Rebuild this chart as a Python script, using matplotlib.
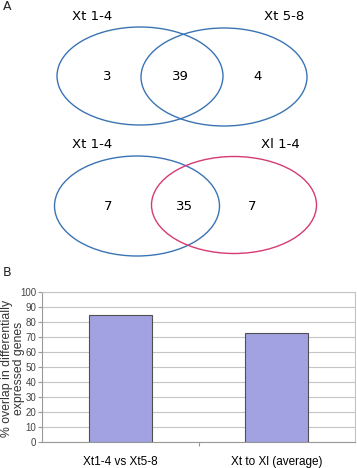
import matplotlib
matplotlib.use("Agg")
import matplotlib.pyplot as plt
from matplotlib.patches import Ellipse

# Data
venn1_labels = ["Xt 1-4", "Xt 5-8"]
venn1_counts = [3, 39, 4]
venn2_labels = ["Xt 1-4", "Xl 1-4"]
venn2_counts = [7, 35, 7]
bar_categories = ["Xt1-4 vs Xt5-8", "Xt to Xl (average)"]
bar_values = [85, 72.5]
yticks = list(range(0, 101, 10))

W, H = 357, 468
fig = plt.figure(figsize=(W / 100, H / 100), dpi=100)
fig.patch.set_facecolor("white")

ax = fig.add_axes([0, 0, 1, 1])
ax.set_xlim(0, W)
ax.set_ylim(H, 0)
ax.axis("off")

blue = "#3a74b4"
pink = "#d63a74"
txt_font = "DejaVu Sans"

ax.text(3, 7, "A", fontsize=9, va="center", ha="left", color="#222222", family=txt_font)
ax.text(3, 272, "B", fontsize=9, va="center", ha="left", color="#222222", family=txt_font)

# Venn 1
ax.add_patch(Ellipse((140, 76), 166, 98, fill=False, ec=blue, lw=1.0))
ax.add_patch(Ellipse((224, 77), 166, 98, fill=False, ec=blue, lw=1.0))
ax.text(92, 17, venn1_labels[0], fontsize=9.5, ha="center", va="center", family=txt_font)
ax.text(284, 17, venn1_labels[1], fontsize=9.5, ha="center", va="center", family=txt_font)
for x, c in zip([107, 180, 258], venn1_counts):
    ax.text(x, 76, str(c), fontsize=9.5, ha="center", va="center", family=txt_font)

# Venn 2
ax.add_patch(Ellipse((137, 206), 165, 100, fill=False, ec=blue, lw=1.0))
ax.add_patch(Ellipse((234, 205), 165, 97, fill=False, ec=pink, lw=1.0))
ax.text(92, 145, venn2_labels[0], fontsize=9.5, ha="center", va="center", family=txt_font)
ax.text(280, 145, venn2_labels[1], fontsize=9.5, ha="center", va="center", family=txt_font)
for x, c in zip([108, 184, 252], venn2_counts):
    ax.text(x, 206, str(c), fontsize=9.5, ha="center", va="center", family=txt_font)

# Bar chart
l, r, t, b = 42, 355, 292, 442
bax = fig.add_axes([l / W, (H - b) / H, (r - l) / W, (b - t) / H])
x = list(range(len(bar_categories)))
bax.bar(x, bar_values, width=0.4, color="#a2a2e2", edgecolor="#505050", linewidth=0.8, zorder=3)
bax.set_xlim(-0.5, len(bar_categories) - 0.5)
bax.set_ylim(0, 100)
bax.set_yticks(yticks)
bax.set_yticklabels([str(v) for v in yticks], fontsize=7, family="Liberation Sans", color="#444444")
bax.yaxis.grid(True, color="#c4c4c4", lw=0.8, zorder=0)
bax.set_xticks([0.5])
bax.set_xticklabels([""])
bax.tick_params(axis="x", length=3, color="#999999", direction="out")
bax.tick_params(axis="y", length=3, color="#999999", pad=1)
for s in ["top", "right"]:
    bax.spines[s].set_color("#c4c4c4")
    bax.spines[s].set_linewidth(0.8)
for s in ["left", "bottom"]:
    bax.spines[s].set_color("#999999")
    bax.spines[s].set_linewidth(0.8)
for xi, lab in zip(x, bar_categories):
    bax.text(xi, -13.5, lab, fontsize=8.5, ha="center", va="center", family="Liberation Sans",
             transform=bax.transData, clip_on=False)
bax.set_ylabel("% overlap in differentially\nexpressed genes", fontsize=8.8, family="Liberation Sans",
               linespacing=1.0, color="#333333", ha="center", va="center")
bax.yaxis.set_label_coords((13.5 - l) / (r - l), 0.49)

fig.savefig("out.png", dpi=100)
